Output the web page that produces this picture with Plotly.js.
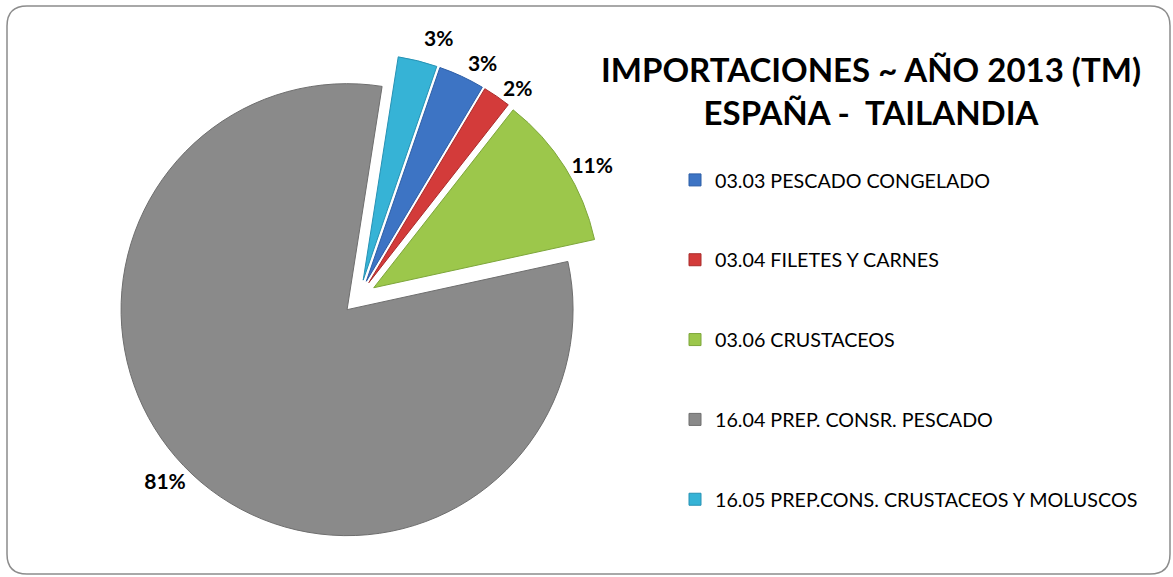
<!DOCTYPE html>
<html>
<head>
<meta charset="utf-8">
<script src="https://cdn.plot.ly/plotly-3.0.1.min.js"></script>
<style>
  html, body { margin: 0; padding: 0; background: #ffffff; }
  #chart { width: 1173px; height: 577px; }
  .pielayer .textline { display: none; }
</style>
</head>
<body>
<div id="chart"></div>
<script>
// ---- data ----
const categories = [
  "03.03 PESCADO CONGELADO",
  "03.04 FILETES Y CARNES",
  "03.06 CRUSTACEOS",
  "16.04 PREP. CONSR. PESCADO",
  "16.05 PREP.CONS. CRUSTACEOS Y MOLUSCOS"
];
const shares = [3.3, 2.0, 11.0, 80.9, 2.8];
const sliceColors = ["#3D74C4", "#D33B3A", "#9CC74B", "#8A8A8A", "#36B3D6"];
const edgeColors = ["#2D5EA6", "#A92C2B", "#7DA63A", "#6E6E6E", "#2792B4"];
const titleLines = ["IMPORTACIONES ~ AÑO 2013 (TM)", "ESPAÑA -\u00a0 TAILANDIA"];

// legend entries padded with blank lines to reproduce the wide spacing
const legendLabels = categories.map(c => "\u00a0<br>" + c + "<br>\u00a0");

const W = 1173, H = 577;

const trace = {
  type: "pie",
  labels: legendLabels,
  values: shares,
  sort: false,
  direction: "clockwise",
  rotation: 19,
  pull: [0.077, 0.077, 0.077, 0.077, 0.077],
  marker: { colors: sliceColors, line: { color: edgeColors, width: 1 } },
  textposition: "outside",
  texttemplate: "%{percent:.0%}",
  textfont: { family: "Lato, 'Open Sans', sans-serif", size: 21, color: "#000000", weight: "bold" },
  hoverinfo: "none",
  domain: { x: [115.6 / W, 602.4 / W], y: [1 - 540.4 / H, 1 - 53.6 / H] }
};

// rounded border
const L = 7 / W, R = 1170 / W, T = 1 - 6 / H, B = 1 - 574 / H;
const rx = 20 / W, ry = 20 / H;
const borderPath =
  `M ${L + rx},${T} L ${R - rx},${T} Q ${R},${T} ${R},${T - ry} ` +
  `L ${R},${B + ry} Q ${R},${B} ${R - rx},${B} ` +
  `L ${L + rx},${B} Q ${L},${B} ${L},${B + ry} ` +
  `L ${L},${T - ry} Q ${L},${T} ${L + rx},${T} Z`;

const layout = {
  width: W, height: H,
  margin: { l: 0, r: 0, t: 0, b: 0 },
  paper_bgcolor: "#ffffff",
  font: { family: "Lato, 'Open Sans', sans-serif", color: "#000000" },
  title: {
    text: titleLines.join("<br>"),
    font: { family: "Lato, 'Open Sans', sans-serif", size: 33, color: "#000000", weight: "bold" },
    x: 871 / W, xanchor: "center",
    y: 1 - 82 / H, yanchor: "middle"
  },
  showlegend: true,
  legend: {
    x: 675 / W, xanchor: "left",
    y: 1 - 135 / H, yanchor: "top",
    font: { family: "Lato, 'Open Sans', sans-serif", size: 19.7, color: "#000000" },
    bgcolor: "rgba(0,0,0,0)",
    valign: "middle"
  },
  shapes: [{
    type: "path", xref: "paper", yref: "paper",
    path: borderPath,
    line: { color: "#8c8c8c", width: 1.5 },
    fillcolor: "rgba(0,0,0,0)"
  }]
};

Plotly.newPlot("chart", [trace], layout, { displayModeBar: false, staticPlot: true });
</script>
</body>
</html>
